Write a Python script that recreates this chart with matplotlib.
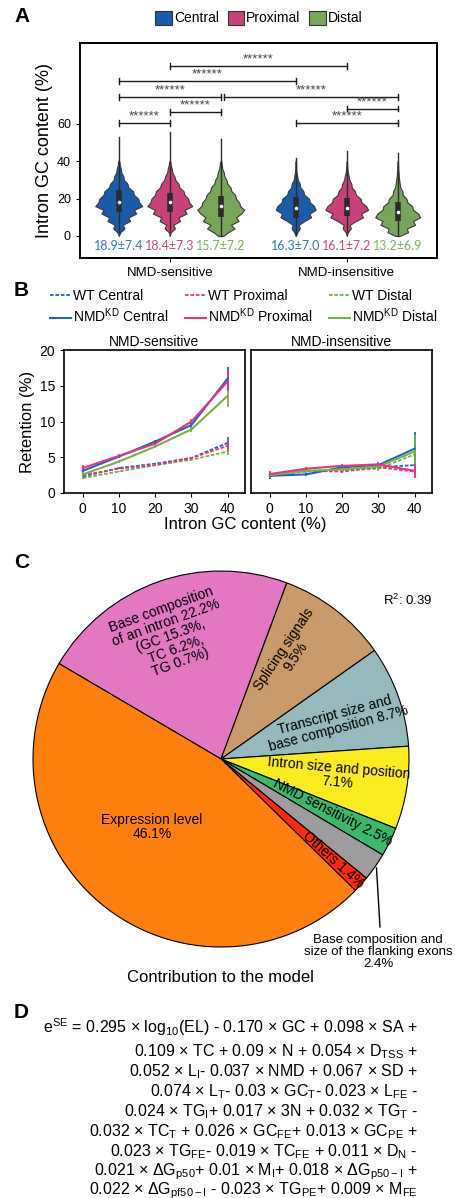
import matplotlib
matplotlib.use("Agg")
import matplotlib.pyplot as plt
import numpy as np
from matplotlib.patches import Patch
from matplotlib.lines import Line2D

plt.rcParams['font.family'] = ['Liberation Sans', 'DejaVu Sans']
plt.rcParams['mathtext.fontset'] = 'custom'
plt.rcParams['mathtext.rm'] = 'Liberation Sans'
plt.rcParams['mathtext.it'] = 'Liberation Sans:italic'
plt.rcParams['mathtext.bf'] = 'Liberation Sans:bold'

# ---------------- data: panel A (violins) ----------------
groups = ['NMD-sensitive', 'NMD-insensitive']
regions = ['Central', 'Proximal', 'Distal']
gc_grid = [0, 2, 4, 6, 8, 10, 12, 14, 16, 18, 20, 22, 24, 26, 28, 30, 32, 34, 36, 38, 40]
# half widths of the violin outline
prof_c_s = [0, 0.03, 0.11, 0.08, 0.22, 0.19, 0.34, 0.30, 0.46, 0.40, 0.38, 0.30, 0.28, 0.19, 0.17, 0.10, 0.09, 0.05, 0.04, 0.02, 0.012]
prof_p_s = [0, 0.02, 0.10, 0.07, 0.20, 0.17, 0.33, 0.29, 0.44, 0.38, 0.36, 0.29, 0.27, 0.19, 0.17, 0.11, 0.09, 0.05, 0.04, 0.02, 0.01]
prof_d_s = [0.05, 0.14, 0.27, 0.20, 0.35, 0.30, 0.40, 0.46, 0.38, 0.36, 0.30, 0.28, 0.21, 0.19, 0.13, 0.11, 0.07, 0.06, 0.03, 0.02, 0.01]
prof_c_i = [0, 0.03, 0.08, 0.06, 0.17, 0.30, 0.27, 0.39, 0.36, 0.28, 0.26, 0.17, 0.15, 0.09, 0.08, 0.04, 0.03, 0.015, 0.01, 0.008, 0.006]
prof_p_i = [0, 0.02, 0.08, 0.06, 0.18, 0.32, 0.28, 0.42, 0.38, 0.29, 0.27, 0.18, 0.16, 0.10, 0.09, 0.05, 0.04, 0.02, 0.012, 0.008, 0.006]
prof_d_i = [0.04, 0.20, 0.18, 0.34, 0.30, 0.44, 0.40, 0.30, 0.28, 0.19, 0.17, 0.10, 0.09, 0.05, 0.04, 0.03, 0.02, 0.015, 0.01, 0.008, 0.005]
profiles = [prof_c_s, prof_p_s, prof_d_s, prof_c_i, prof_p_i, prof_d_i]
q1 = [13, 13, 10.4, 9.5, 10.5, 8]
med = [18, 18, 16, 15, 15, 13]
q3 = [24.6, 23, 21.4, 20.7, 20.5, 18]
vmin = [2.3, 2.3, 0, 0.5, 2.3, 0]
vmax = [52.9, 55.9, 51.8, 41.6, 45.5, 44.3]
stats = ['18.9±7.4', '18.4±7.3', '15.7±7.2', '16.3±7.0', '16.1±7.2', '13.2±6.9']
# significance brackets: (from, to, height) in violin index / GC units
sig_pairs = [(1, 4, 91.3), (0, 3, 83.2), (0, 2, 74.6), (2, 5, 74.6),
             (1, 2, 66.4), (0, 1, 60.5), (4, 5, 68.3), (3, 5, 60.7)]

# ---------------- data: panel B ----------------
gc_bins = [0, 10, 20, 30, 40]
kd_s = {'Central': [3.1, 5.1, 7.2, 9.5, 16.0], 'Proximal': [3.5, 5.2, 6.9, 10.0, 15.6], 'Distal': [2.6, 4.4, 6.5, 8.9, 13.6]}
kd_s_err = {'Central': [0.3, 0.2, 0.2, 0.3, 1.6], 'Proximal': [0.4, 0.2, 0.2, 0.3, 1.4], 'Distal': [0.3, 0.2, 0.2, 0.3, 1.6]}
wt_s = {'Central': [2.3, 3.5, 4.1, 4.9, 7.0], 'Proximal': [2.5, 3.4, 3.9, 4.9, 6.6], 'Distal': [2.1, 3.0, 3.9, 4.65, 5.8]}
wt_s_err = {'Central': [0.2, 0.1, 0.1, 0.2, 0.8], 'Proximal': [0.2, 0.1, 0.1, 0.2, 0.7], 'Distal': [0.2, 0.1, 0.1, 0.2, 0.5]}
kd_i = {'Central': [2.4, 2.6, 3.6, 3.9, 6.2], 'Proximal': [2.65, 3.4, 3.8, 4.0, 3.1], 'Distal': [2.5, 3.1, 3.3, 3.7, 5.8]}
kd_i_err = {'Central': [0.4, 0.2, 0.2, 0.3, 2.4], 'Proximal': [0.4, 0.2, 0.2, 0.4, 1.0], 'Distal': [0.4, 0.2, 0.2, 0.4, 2.3]}
wt_i = {'Central': [2.5, 3.1, 3.2, 3.6, 3.9], 'Proximal': [2.4, 3.1, 3.0, 3.6, 3.0], 'Distal': [2.4, 3.0, 3.2, 3.4, 5.4]}
wt_i_err = {'Central': [0.3, 0.2, 0.2, 0.2, 0.5], 'Proximal': [0.3, 0.2, 0.2, 0.3, 0.7], 'Distal': [0.3, 0.2, 0.2, 0.3, 0.9]}

# ---------------- data: panel C ----------------
pie_labels = ['Base composition\nof an intron 22.2%\n(GC 15.3%,\nTC 6.2%,\nTG 0.7%)',
              'Splicing signals\n9.5%', 'Transcript size and\nbase composition 8.7%',
              'Intron size and position\n7.1%', 'NMD sensitivity 2.5%',
              'Base composition and\nsize of the flanking exons\n2.4%', 'Others 1.4%',
              'Expression level\n46.1%']
pie_values = [22.2, 9.5, 8.7, 7.1, 2.5, 2.4, 1.4, 46.1]
pie_colors = ['#e377c2', '#c99a6b', '#95b9bc', '#fbec1f', '#3cb96b', '#9d9d9d', '#fb2a07', '#fd7f0e']

# ---------------- data: panel D ----------------
eq_lines = [
    r"e$^{\mathrm{SE}}$ = 0.295 × log$_{\mathrm{10}}$(EL) - 0.170 × GC + 0.098 × SA +",
    r"0.109 × TC + 0.09 × N + 0.054 × D$_{\mathrm{TSS}}$ +",
    r"0.052 × L$_{\mathrm{I}}$- 0.037 × NMD + 0.067 × SD +",
    r"0.074 × L$_{\mathrm{T}}$- 0.03 × GC$_{\mathrm{T}}$- 0.023 × L$_{\mathrm{FE}}$ -",
    r"0.024 × TG$_{\mathrm{I}}$+ 0.017 × 3N + 0.032 × TG$_{\mathrm{T}}$ -",
    r"0.032 × TC$_{\mathrm{T}}$ + 0.026 × GC$_{\mathrm{FE}}$+ 0.013 × GC$_{\mathrm{PE}}$ +",
    r"0.023 × TG$_{\mathrm{FE}}$- 0.019 × TC$_{\mathrm{FE}}$ + 0.011 × D$_{\mathrm{N}}$ -",
    r"0.021 × ΔG$_{\mathrm{p50}}$+ 0.01 × M$_{\mathrm{I}}$+ 0.018 × ΔG$_{\mathrm{p50-I}}$ +",
    r"0.022 × ΔG$_{\mathrm{pf50-I}}$ - 0.023 × TG$_{\mathrm{PE}}$+ 0.009 × M$_{\mathrm{FE}}$",
]

W, H = 455, 1198
fig = plt.figure(figsize=(W / 100, H / 100), dpi=100)


def box(x0, y0, x1, y1):
    return [x0 / W, 1 - y1 / H, (x1 - x0) / W, (y1 - y0) / H]


vcols = ['#1a5ca8', '#c8417a', '#78a55a']
tcols = ['#3a74c2', '#d0467f', '#82ae62']

# ================= A =================
axA = fig.add_axes(box(80, 43, 437, 258))
pos = [-1, 0, 1, 2.47, 3.47, 4.47]
g = np.array(gc_grid, dtype=float)
for i in range(6):
    w = np.array(profiles[i])
    axA.fill_betweenx(g, pos[i] - w, pos[i] + w, facecolor=vcols[i % 3],
                      edgecolor='#3a3a3a', lw=0.8, zorder=2)
    axA.plot([pos[i], pos[i]], [vmin[i], vmax[i]], color='#2b2b2b', lw=1.0, zorder=3)
    axA.plot([pos[i], pos[i]], [q1[i], q3[i]], color='#2b2b2b', lw=4, zorder=4,
             solid_capstyle='butt')
    axA.plot(pos[i], med[i], 'o', ms=1.6, color='white', zorder=5)
    axA.text(pos[i], -5.5, stats[i], color=tcols[i % 3], ha='center', va='center',
             fontsize=9, family=['Lato', 'DejaVu Sans'])

for a, b, h in sig_pairs:
    xa = pos[a] + (0.07 if (a, b) == (2, 5) else 0)
    axA.plot([xa, pos[b]], [h, h], color='#1a1a1a', lw=1.0)
    for xx in (xa, pos[b]):
        axA.plot([xx, xx], [h - 1.6, h + 1.6], color='#1a1a1a', lw=1.0)
    axA.text((xa + pos[b]) / 2, h + 0.3, '******', ha='center', va='bottom',
             fontsize=9.5, color='#444444')

axA.set_xlim(-1.76, 5.24)
axA.set_ylim(-11.8, 103.4)
axA.set_yticks([0, 20, 40, 60])
axA.set_xticks([0, 3.47])
axA.set_xticklabels(groups, fontsize=9.5)
axA.tick_params(axis='y', labelsize=9, length=3)
axA.tick_params(axis='x', length=3)
axA.set_ylabel('Intron GC content (%)', fontsize=13, labelpad=3)
for s in axA.spines.values():
    s.set_linewidth(1.4)

fig.legend(handles=[Patch(facecolor=c, edgecolor='#333333', lw=0.8) for c in vcols],
           labels=regions, loc='center', bbox_to_anchor=(259 / W, 1 - 18 / H), ncol=3,
           frameon=False, fontsize=10, handlelength=1.2, handleheight=1.2,
           handletextpad=0.15, columnspacing=0.6)

# ================= B =================
bcols = {'Central': '#1766c8', 'Proximal': '#e8367c', 'Distal': '#78b146'}
axB1 = fig.add_axes(box(64, 350, 245, 493))
axB2 = fig.add_axes(box(251, 350, 432, 493))
for ax, wt, wte, kd, kde, title in [(axB1, wt_s, wt_s_err, kd_s, kd_s_err, groups[0]),
                                     (axB2, wt_i, wt_i_err, kd_i, kd_i_err, groups[1])]:
    for r in ['Central', 'Distal', 'Proximal']:
        ax.errorbar(gc_bins, wt[r], yerr=wte[r], color=bcols[r], lw=1.3,
                    ls=(0, (2, 1)), elinewidth=1.2, capsize=0)
    for r in ['Central', 'Distal', 'Proximal']:
        ax.errorbar(gc_bins, kd[r], yerr=kde[r], color=bcols[r], lw=1.5,
                    elinewidth=1.3, capsize=0)
    ax.set_xlim(-5.2, 44.8)
    ax.set_ylim(0, 20)
    ax.set_xticks(gc_bins)
    ax.tick_params(labelsize=10, length=3)
    ax.set_title(title, fontsize=10, pad=3)
    for s in ax.spines.values():
        s.set_linewidth(1.2)
axB1.set_yticks([0, 5, 10, 15, 20])
axB2.set_yticks([])
axB1.set_ylabel('Retention (%)', fontsize=12, labelpad=3)
fig.text(245 / W, 1 - 524 / H, 'Intron GC content (%)', ha='center', va='center', fontsize=12)

leg_h, leg_l = [], []
for r in regions:
    leg_h.append(Line2D([], [], color=bcols[r], lw=1.3, ls=(0, (2, 1))))
    leg_l.append('WT ' + r)
    leg_h.append(Line2D([], [], color=bcols[r], lw=1.5))
    leg_l.append(r'NMD$^{\mathrm{KD}}$ ' + r)
fig.legend(handles=leg_h, labels=leg_l, loc='center', bbox_to_anchor=(244 / W, 1 - 307 / H),
           ncol=3, frameon=False, fontsize=10, handlelength=1.5, handletextpad=0.15,
           columnspacing=1.2, labelspacing=0.3)

# ================= C =================
axC = fig.add_axes(box(0, 560, 455, 1000))
axC.pie(pie_values, colors=pie_colors, startangle=149.5, counterclock=False,
        center=(221, -759), radius=188,
        wedgeprops=dict(edgecolor='black', linewidth=0.8))
axC.set_xlim(0, 455)
axC.set_ylim(-1000, -560)
axC.set_aspect('auto')
axC.axis('off')

lab_xy = [(171, -636, 20), (290, -653, 56), (337, -722, 15), (338, -775, -5),
          (333, -813, -27), None, (333, -860, -42), (152, -827, 0)]
for lab, p in zip(pie_labels, lab_xy):
    if p is None:
        continue
    axC.text(p[0], p[1], lab, rotation=p[2], ha='center', va='center', fontsize=10,
             rotation_mode='anchor', linespacing=1.0)
axC.plot([376.5, 380], [-868, -927], color='black', lw=1.0)
axC.text(378, -952, pie_labels[5], ha='center', va='center', fontsize=9.5, linespacing=1.0)
axC.text(408, -600, r'R$^{2}$: 0.39', ha='center', va='center', fontsize=9.5)
axC.text(220, -977, 'Contribution to the model', ha='center', va='center', fontsize=12)

# ================= D =================
eq_y = [1027, 1052, 1072, 1092, 1112, 1132, 1152, 1172, 1191]
for line, y in zip(eq_lines, eq_y):
    fig.text(418 / W, 1 - y / H, line, ha='right', va='center', fontsize=11.5)

for lab, y in [('A', 17), ('B', 290), ('C', 563), ('D', 1012)]:
    fig.text(14 / W, 1 - y / H, lab, fontsize=15, fontweight='bold', va='center', ha='left')

fig.savefig('out.png', dpi=100)
